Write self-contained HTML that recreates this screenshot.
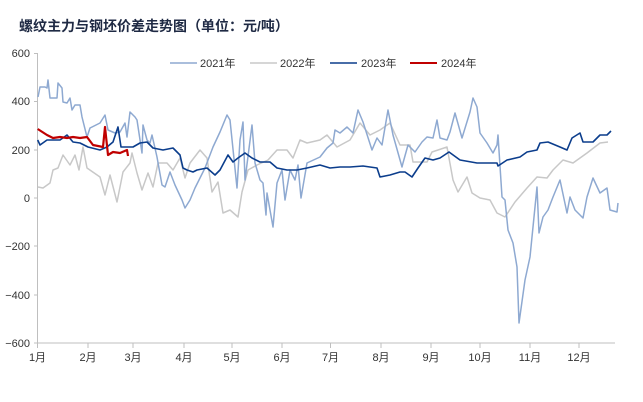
<!DOCTYPE html>
<html><head><meta charset="utf-8"><style>
html,body{margin:0;padding:0;background:#fff}
svg{display:block}
text{font-family:"Liberation Sans","Noto Sans CJK SC",sans-serif}
</style></head><body>
<svg width="643" height="402" viewBox="0 0 643 402" xmlns="http://www.w3.org/2000/svg">
<text x="19" y="31" font-size="14" font-weight="bold" fill="#1f2a44" font-family="'Noto Serif CJK SC','Noto Sans CJK SC',serif">螺纹主力与钢坯价差走势图（单位：元/吨）</text>
<g font-size="11" fill="#333">
<line x1="170" y1="63" x2="197" y2="63" stroke="#8ea9d1" stroke-width="1.5"/><text x="200" y="67">2021年</text>
<line x1="250" y1="63" x2="277" y2="63" stroke="#c8c8c8" stroke-width="1.5"/><text x="280" y="67">2022年</text>
<line x1="330" y1="63" x2="357" y2="63" stroke="#0b3d8c" stroke-width="1.5"/><text x="361" y="67">2023年</text>
<line x1="410" y1="63" x2="437" y2="63" stroke="#c00000" stroke-width="2"/><text x="441" y="67">2024年</text>
</g>
<g stroke="#bfbfbf" stroke-width="1" fill="none">
<line x1="37.5" y1="53" x2="37.5" y2="343"/>
<line x1="37.5" y1="343" x2="615" y2="343"/>
<path d="M34 53.5h4M34 101.5h4M34 150h4M34 198h4M34 246h4M34 295h4M34 343h4"/>
<path d="M37.5 343v5M88 343v5M133 343v5M184 343v5M232 343v5M282 343v5M330.5 343v5M381 343v5M431 343v5M480 343v5M530 343v5M579 343v5"/>
</g>
<g font-size="11" fill="#333" text-anchor="end">
<text x="30" y="57">600</text><text x="30" y="105">400</text><text x="30" y="154">200</text><text x="30" y="202">0</text><text x="30" y="250">−200</text><text x="30" y="299">−400</text><text x="30" y="347">−600</text>
</g>
<g font-size="11" fill="#333" text-anchor="middle">
<text x="37.5" y="361">1月</text><text x="88" y="361">2月</text><text x="133" y="361">3月</text><text x="184" y="361">4月</text><text x="232" y="361">5月</text><text x="282" y="361">6月</text><text x="330.5" y="361">7月</text><text x="381" y="361">8月</text><text x="431" y="361">9月</text><text x="480" y="361">10月</text><text x="530" y="361">11月</text><text x="579" y="361">12月</text>
</g>
<g fill="none" stroke-linejoin="round">
<polyline stroke="#c8c8c8" stroke-width="1.5" points="38,187 43,188 50,183 53,170 58,168 63,155 70,165 75,155 79,170 83,147 87,168 100,177 105,195 110,175 117,202 123,172 130,163 132,153 137,173 142,190 148,173 153,187 158,163 167,163 173,170 180,158 185,178 190,163 200,150 207,158 212,192 218,182 223,213 230,210 238,217 242,192 248,170 257,165 268,160 277,150 287,150 293,158 300,140 307,143 320,140 327,135 337,147 350,140 360,123 370,135 380,130 390,123 400,145 410,145 413,162 427,162 432,152 447,147 453,180 458,192 467,177 472,193 480,198 490,200 497,213 505,217 515,202 527,188 537,177 547,178 553,170 563,160 573,163 587,153 600,143 608,142"/>
<polyline stroke="#8ea9d1" stroke-width="1.5" points="38,97 40,87 45,87 47,88 48,80 50,98 57,98 58,83 62,88 63,102 67,103 70,98 72,110 75,105 80,105 82,117 87,137 90,128 100,123 105,115 108,130 115,133 120,132 125,123 127,137 130,112 135,117 137,120 142,153 143,125 147,140 150,143 152,135 157,157 162,185 165,187 170,172 175,185 182,200 185,208 190,200 195,188 205,168 213,147 220,132 227,115 230,120 237,188 240,140 243,122 245,180 252,125 255,163 260,180 263,183 266,215 267,193 273,227 277,183 282,170 285,200 290,170 295,180 298,165 301,198 307,163 320,157 327,148 333,143 335,130 340,133 347,127 353,133 358,110 363,122 372,150 377,138 382,145 388,110 393,135 402,167 403,163 408,145 415,152 422,142 427,137 433,138 437,120 440,138 447,140 450,132 455,113 462,138 470,112 473,98 477,107 480,133 487,143 493,153 497,145 498,135 502,197 505,200 508,230 513,243 517,267 519,323 525,280 530,257 537,187 539,233 543,217 548,210 553,197 560,180 567,213 570,197 575,210 583,218 587,197 593,178 600,193 607,188 610,210 617,212 618,203"/>
<polyline stroke="#0b3d8c" stroke-width="1.6" points="37.7,140 40,145 47,140 60,140 67,135 73,142 80,143 88,147 100,150 107,147 113,142 118,127 121,147 133,147 140,143 147,142 153,148 163,150 173,148 180,155 183,168 187,170 193,172 197,170 207,168 215,175 220,170 228,155 233,162 238,158 245,153 252,158 260,162 270,162 277,168 287,170 297,170 307,168 320,165 330,168 340,167 350,167 363,166 377,168 380,177 390,175 400,172 405,172 412,177 418,168 425,158 433,160 440,158 449,152 460,160 477,163 497,163 498,166 507,160 520,157 527,152 537,150 540,143 548,142 560,147 567,150 572,138 580,133 583,142 593,142 600,135 607,135 611,131"/>
<polyline stroke="#c00000" stroke-width="2.2" points="37.7,129 47,135 53,138 60,137 67,138 73,137 80,138 87,137 93,145 103,147 105,127 108,155 113,152 120,153 127,150 128,156"/>
</g>
</svg>
</body></html>
